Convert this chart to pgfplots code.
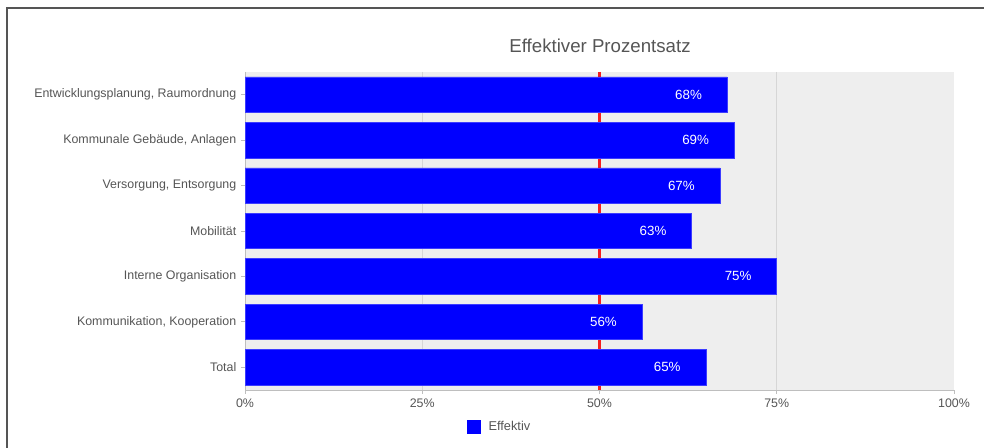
\documentclass[border=0pt]{standalone}
\usepackage{fontspec}
\setmainfont{Liberation Sans}
\usepackage{pgfplots}
\pgfplotsset{compat=1.18}
\definecolor{bgc}{RGB}{238,238,238}
\definecolor{gridc}{RGB}{214,214,214}
\definecolor{tickc}{RGB}{190,190,190}
\definecolor{txtc}{RGB}{85,85,85}
\definecolor{barc}{RGB}{0,0,255}
\definecolor{baredge}{RGB}{60,60,255}
\definecolor{framec}{RGB}{85,85,85}
\definecolor{refline}{RGB}{245,30,30}
\begin{document}
\begin{tikzpicture}
\useasboundingbox (0pt,0pt) rectangle (738pt,336pt);
\draw[framec, line width=1.5pt] (5.25pt,0pt) -- (5.25pt,330pt) -- (738pt,330pt);
\node[text=txtc, font=\fontsize{14}{16}\selectfont, inner sep=0pt] at (450pt,301.5pt) {Effektiver Prozentsatz};
\begin{axis}[
  at={(183.75pt,43.5pt)}, anchor=south west,
  scale only axis, width=531.75pt, height=238.5pt,
  xmin=0, xmax=100, ymin=-0.5, ymax=6.5,
  y dir=reverse,
  axis background/.style={fill=bgc},
  axis line style={tickc},
  axis x line*=bottom, axis y line*=left,
  tick align=outside, major tick length=3pt,
  tick style={tickc, line width=0.6pt},
  xtick={0,25,50,75,100},
  xticklabels={0\%,25\%,50\%,75\%,100\%},
  ytick={0,1,2,3,4,5,6},
  yticklabels={{Entwicklungsplanung, Raumordnung},{Kommunale Gebäude, Anlagen},{Versorgung, Entsorgung},{Mobilität},{Interne Organisation},{Kommunikation, Kooperation},{Total}},
  ticklabel style={text=txtc, font=\fontsize{9.3}{11}\selectfont},
  /pgf/number format/assume math mode=true,
  legend style={at={(0.3131,-0.1148)}, anchor=west, draw=none, fill=none, inner sep=0pt, outer sep=0pt,
    nodes={inner sep=0pt, text=txtc, font=\fontsize{9.6}{11}\selectfont}},
  legend image code/.code={\fill[barc] (0pt,-4.875pt) rectangle (9.75pt,4.875pt); \path (15.75pt,0pt);},
  clip=false,
]
\addplot[color=gridc, line width=0.8pt, mark=none, forget plot] coordinates {(25,-0.5) (25,6.5)};
\addplot[color=gridc, line width=0.8pt, mark=none, forget plot] coordinates {(75,-0.5) (75,6.5)};
\addplot[color=refline, line width=1.6pt, mark=none, forget plot] coordinates {(50,-0.5) (50,6.5)};
\addplot[xbar, bar width=26.6pt, fill=barc, draw=baredge, line width=0.4pt,
  nodes near coords={\pgfmathprintnumber{\pgfplotspointmeta}\%},
  every node near coord/.append style={anchor=east, xshift=-18.75pt, inner sep=0pt, text=white, font=\fontsize{10}{12}\selectfont},
] coordinates {(68,0) (69,1) (67,2) (63,3) (75,4) (56,5) (65,6)};
\legend{Effektiv}
\end{axis}
\end{tikzpicture}
\end{document}
